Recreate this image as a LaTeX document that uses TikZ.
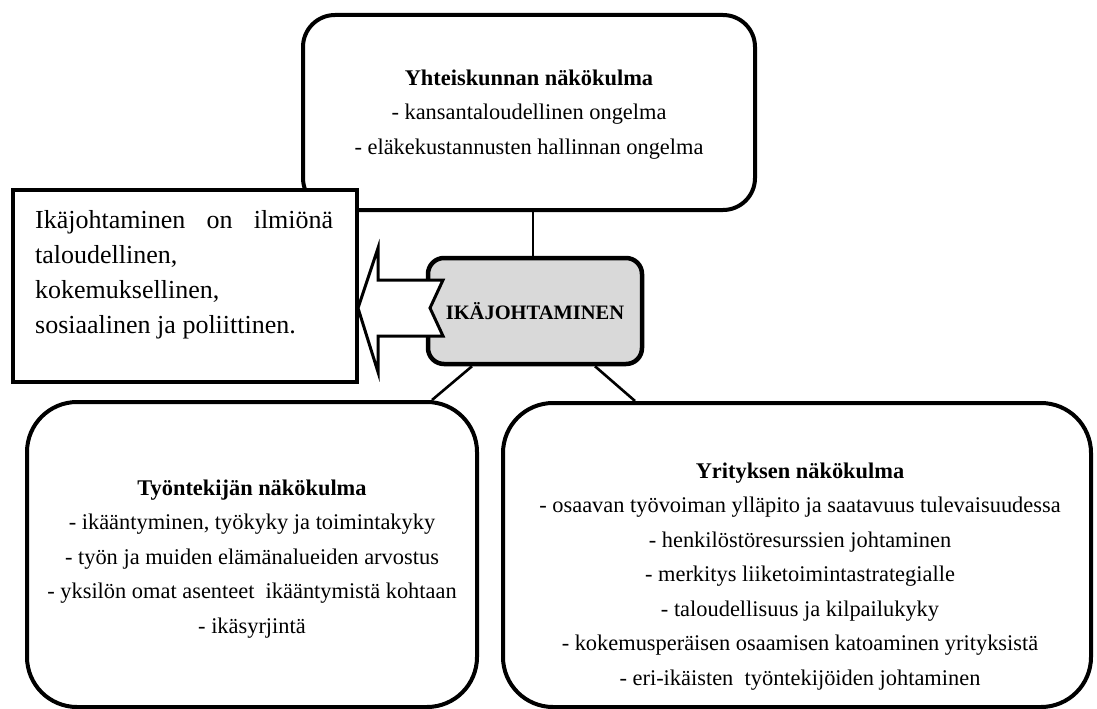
\documentclass[tikz,border=0pt]{standalone}
\usepackage{fontspec}
\setmainfont{Liberation Serif}
\usetikzlibrary{shadows}
\definecolor{boxgray}{HTML}{D9D9D9}
\tikzset{
  rbox/.style={draw, line width=4pt, fill=white, inner sep=0pt, rounded corners=#1,
    drop shadow={shadow xshift=1.5pt, shadow yshift=-1.5pt, opacity=0.25}},
  sqbox/.style={draw, line width=4pt, fill=white, inner sep=0pt},
  link/.style={line width=2.6pt},
  body/.style={inner sep=0pt, anchor=base, font=\fontsize{22.4}{34.5}\selectfont},
}
\begin{document}
\begin{tikzpicture}[x=1pt,y=-1pt]
\useasboundingbox (0,0) rectangle (1097,709);
% boxes
\node[rbox=32pt, minimum width=452pt, minimum height=195pt] (soc) at (529,112.5) {};
\node[rbox=50pt, minimum width=450pt, minimum height=305pt] (emp) at (252,554.5) {};
\node[rbox=50pt, minimum width=588pt, minimum height=304pt] (firm) at (797,555) {};
\node[sqbox, minimum width=344pt, minimum height=192pt] (note) at (185,286) {};
\node[rbox=16pt, fill=boxgray, line width=4.5pt, minimum width=214pt, minimum height=106pt,
      font=\fontsize{20.5}{24}\selectfont\bfseries] (core) at (535,311) {IKÄJOHTAMINEN};
% connectors
\draw[link] (soc.south -| 533,0) -- (core.north -| 533,0);
\draw[link] ([xshift=-63pt]core.south) -- ([xshift=180pt]emp.north);
\draw[link] ([xshift=60pt]core.south) -- ([xshift=-162pt]firm.north);
% notched arrow
\draw[line width=3pt, fill=white, line join=miter]
  (358,308) -- (378,248) -- (378,280) -- (443,280) -- (430,308) -- (443,336)
  -- (378,336) -- (378,372) -- cycle;
% texts
\node[inner sep=0pt, anchor=base west, font=\fontsize{26}{35}\selectfont] (notetext) at (35,228)
  {\begin{tabular}[t]{@{}l@{}}\makebox[298pt][s]{Ikäjohtaminen on ilmiönä}\\taloudellinen,\\kokemuksellinen,\\sosiaalinen ja poliittinen.\end{tabular}};
\node[body] (soctext) at (529,85)
  {\begin{tabular}[t]{@{}c@{}}\textbf{Yhteiskunnan näkökulma}\\- kansantaloudellinen ongelma\\- eläkekustannusten hallinnan ongelma\end{tabular}};
\node[body] (emptext) at (252,495)
  {\begin{tabular}[t]{@{}c@{}}\textbf{Työntekijän näkökulma}\\- ikääntyminen, työkyky ja toimintakyky\\- työn ja muiden elämänalueiden arvostus\\- yksilön omat asenteet\ \ ikääntymistä kohtaan\\- ikäsyrjintä\end{tabular}};
\node[body] (firmtext) at (800,478)
  {\begin{tabular}[t]{@{}c@{}}\textbf{Yrityksen näkökulma}\\- osaavan työvoiman ylläpito ja saatavuus tulevaisuudessa\\- henkilöstöresurssien johtaminen\\- merkitys liiketoimintastrategialle\\- taloudellisuus ja kilpailukyky\\- kokemusperäisen osaamisen katoaminen yrityksistä\\- eri-ikäisten\ \ työntekijöiden johtaminen\end{tabular}};
\end{tikzpicture}
\end{document}
